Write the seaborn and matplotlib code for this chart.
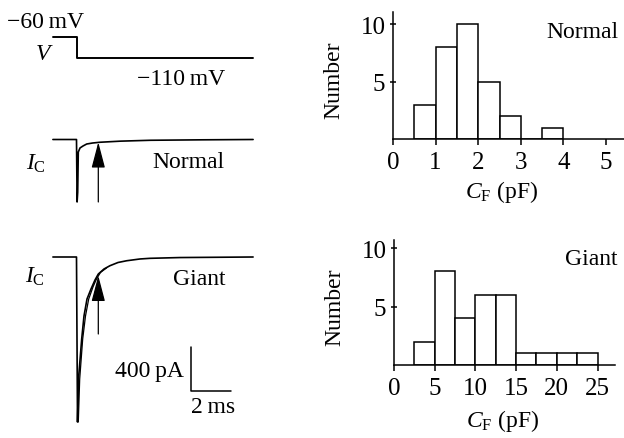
import numpy as np
import pandas as pd
import matplotlib
matplotlib.use("Agg")
import matplotlib.pyplot as plt
import seaborn as sns

# voltage protocol (ms, mV)
v_time = [-1.18, 0.0, 0.0, 8.83]
v_mv = [-60, -60, -110, -110]

# capacitive current, normal cell (ms, pA)
normal_time = [-1.18, 0.0, 0.03, 0.06, 0.09, 0.175, 0.325, 0.51, 0.8, 1.175, 2.2, 3.7, 6.2, 8.83]
normal_pa = [0, 0, -568, -480, -114, -77, -59, -41, -32, -25, -15, -7, -3, 0]

# capacitive current, giant cell (ms, pA) and its fit
giant_time = [-1.18, 0.0, 0.05, 0.1, 0.26, 0.375, 0.525, 0.725, 0.925, 1.09, 1.375,
              1.675, 2.075, 2.51, 3.175, 3.675, 5.175, 8.83]
giant_pa = [0, 0, -1500, -1109, -745, -536, -382, -291, -209, -155, -109,
            -79, -50, -34, -18, -12, -5, 0]
giant_fit_time = [0.09, 0.16, 0.31, 0.45, 0.61, 0.83, 1.0, 1.2, 1.5]
giant_fit_pa = [-1500, -1109, -745, -536, -382, -270, -200, -140, -100]

# arrows (time, tip, tail)
normal_arrow = (1.09, -25, -568)
giant_arrow = (1.09, -170, -700)

# scale bar
scale_t, scale_i = 5.725, -1218
scale_ms, scale_pa = 2, 400

# histograms of C_F
normal_bin_left = [0.5, 1.0, 1.5, 2.0, 2.5, 3.0, 3.5]
normal_counts = [3, 8, 10, 5, 2, 0, 1]
normal_width = 0.5
giant_bin_left = [2.5, 5.0, 7.5, 10.0, 12.5, 15.0, 17.5, 20.0, 22.5]
giant_counts = [2, 8, 4, 6, 6, 1, 1, 1, 1]
giant_width = 2.5

sns.set_theme(style="white")
plt.rcParams['font.family'] = ['Liberation Serif', 'DejaVu Serif']
plt.rcParams['mathtext.fontset'] = 'custom'
plt.rcParams['mathtext.rm'] = 'Liberation Serif'
plt.rcParams['mathtext.it'] = 'Liberation Serif:italic'

W, H = 624, 439
fig = plt.figure(figsize=(W / 100, H / 100), dpi=100)
fig.patch.set_facecolor('white')

FS = 17


def px_axes(x0, y0, x1, y1):
    ax = fig.add_axes([x0 / W, 1 - y1 / H, (x1 - x0) / W, (y1 - y0) / H])
    ax.set_facecolor('none')
    return ax


def ftext(x, y, s, **kw):
    kw.setdefault('fontsize', FS)
    kw.setdefault('va', 'baseline')
    fig.text(x / W, 1 - y / H, s, color='black', **kw)


# left column: traces share a time scale of 20 px per ms
T0_PX, PX_MS = 76.5, 20.0
PX_PA = 0.11
PX_MV = 21.3 / 50


def trace_axes(y0, y1, y_ref, px_unit, ref_val=0):
    ax = px_axes(0, y0, 270, y1)
    ax.set_xlim(-T0_PX / PX_MS, (270 - T0_PX) / PX_MS)
    ax.set_ylim(ref_val - (y1 - y_ref) / px_unit, ref_val + (y_ref - y0) / px_unit)
    ax.axis('off')
    return ax


ax_v = trace_axes(0, 110, 37.7, PX_MV, -60)
sns.lineplot(x=v_time, y=v_mv, estimator=None, sort=False, color='black', lw=1.4, ax=ax_v)

ax_n = trace_axes(110, 220, 140.5, PX_PA)
sns.lineplot(x=normal_time, y=normal_pa, estimator=None, sort=False, color='black', lw=1.2, ax=ax_n)

ax_g = trace_axes(220, 439, 258, PX_PA)
sns.lineplot(x=giant_time, y=giant_pa, estimator=None, sort=False, color='black', lw=1.2, ax=ax_g)
sns.lineplot(x=giant_fit_time, y=giant_fit_pa, estimator=None, sort=False, color='black', lw=0.9, ax=ax_g)

for ax, (t, tip, tail) in [(ax_n, normal_arrow), (ax_g, giant_arrow)]:
    ax.annotate("", xy=(t, tip), xytext=(t, tail),
                arrowprops=dict(arrowstyle='-|>,head_length=1.6,head_width=0.42',
                                mutation_scale=10, lw=0.9, color='black',
                                shrinkA=0, shrinkB=0))

# scale bar
ax_g.plot([scale_t, scale_t, scale_t + scale_ms],
          [scale_i + scale_pa, scale_i, scale_i], color='black', lw=1.1)

ftext(7, 28, "\u221260\u2009mV")
ftext(36, 60, "V", style='italic')
ftext(137, 85, "\u2212110\u2009mV")
ftext(26, 170, r"$I_\mathrm{C}$")
ftext(224, 168, "Normal", ha='right')
ftext(25, 283, r"$I_\mathrm{C}$")
ftext(225, 285, "Giant", ha='right')
ftext(184, 377, "400\u2009pA", ha='right')
ftext(191, 413, "2\u2009ms", ha='left')


def hist_panel(box, left, counts, width, xmax, ymax, xticks, ylab_x, xlab_pos):
    ax = px_axes(*box)
    df = pd.DataFrame({'cf': np.array(left) + width / 2, 'n': counts})
    edges = list(left) + [left[-1] + width]
    sns.histplot(data=df, x='cf', weights='n', bins=edges, color='white',
                 edgecolor='black', linewidth=1.1, alpha=1, ax=ax)
    ax.set_xlim(0, xmax)
    ax.set_ylim(0, ymax)
    ax.set_xticks(xticks)
    ax.set_yticks([5, 10])
    sns.despine(ax=ax)
    for s in ['left', 'bottom']:
        ax.spines[s].set_linewidth(1.1)
        ax.spines[s].set_color('black')
    ax.tick_params(axis='y', direction='inout', length=5, width=1.1, pad=3,
                   labelsize=18, colors='black', left=True)
    ax.tick_params(axis='x', direction='out', length=4.5, width=1.1, pad=4,
                   labelsize=18, colors='black', bottom=True)
    ax.set_ylabel("Number", fontsize=FS, color='black')
    ax.yaxis.set_label_coords(ylab_x, 0.47)
    ax.set_xlabel(r"$C_\mathrm{F}$ (pF)", fontsize=FS, color='black')
    ax.xaxis.set_label_coords(*xlab_pos)
    return ax


hist_panel((393, 13, 624, 140), normal_bin_left, normal_counts, normal_width,
           (624 - 393) / 42.6, (140 - 13) / 11.5, [0, 1, 2, 3, 4, 5], -0.21, (0.47, -0.31))
hist_panel((394, 240.7, 615, 366), giant_bin_left, giant_counts, giant_width,
           (615 - 394) / 8.14, (366 - 240.7) / 11.7, [0, 5, 10, 15, 20, 25], -0.22, (0.49, -0.335))

ftext(618, 38, "Normal", ha='right')
ftext(618, 265, "Giant", ha='right')

fig.savefig("out.png", dpi=100)
